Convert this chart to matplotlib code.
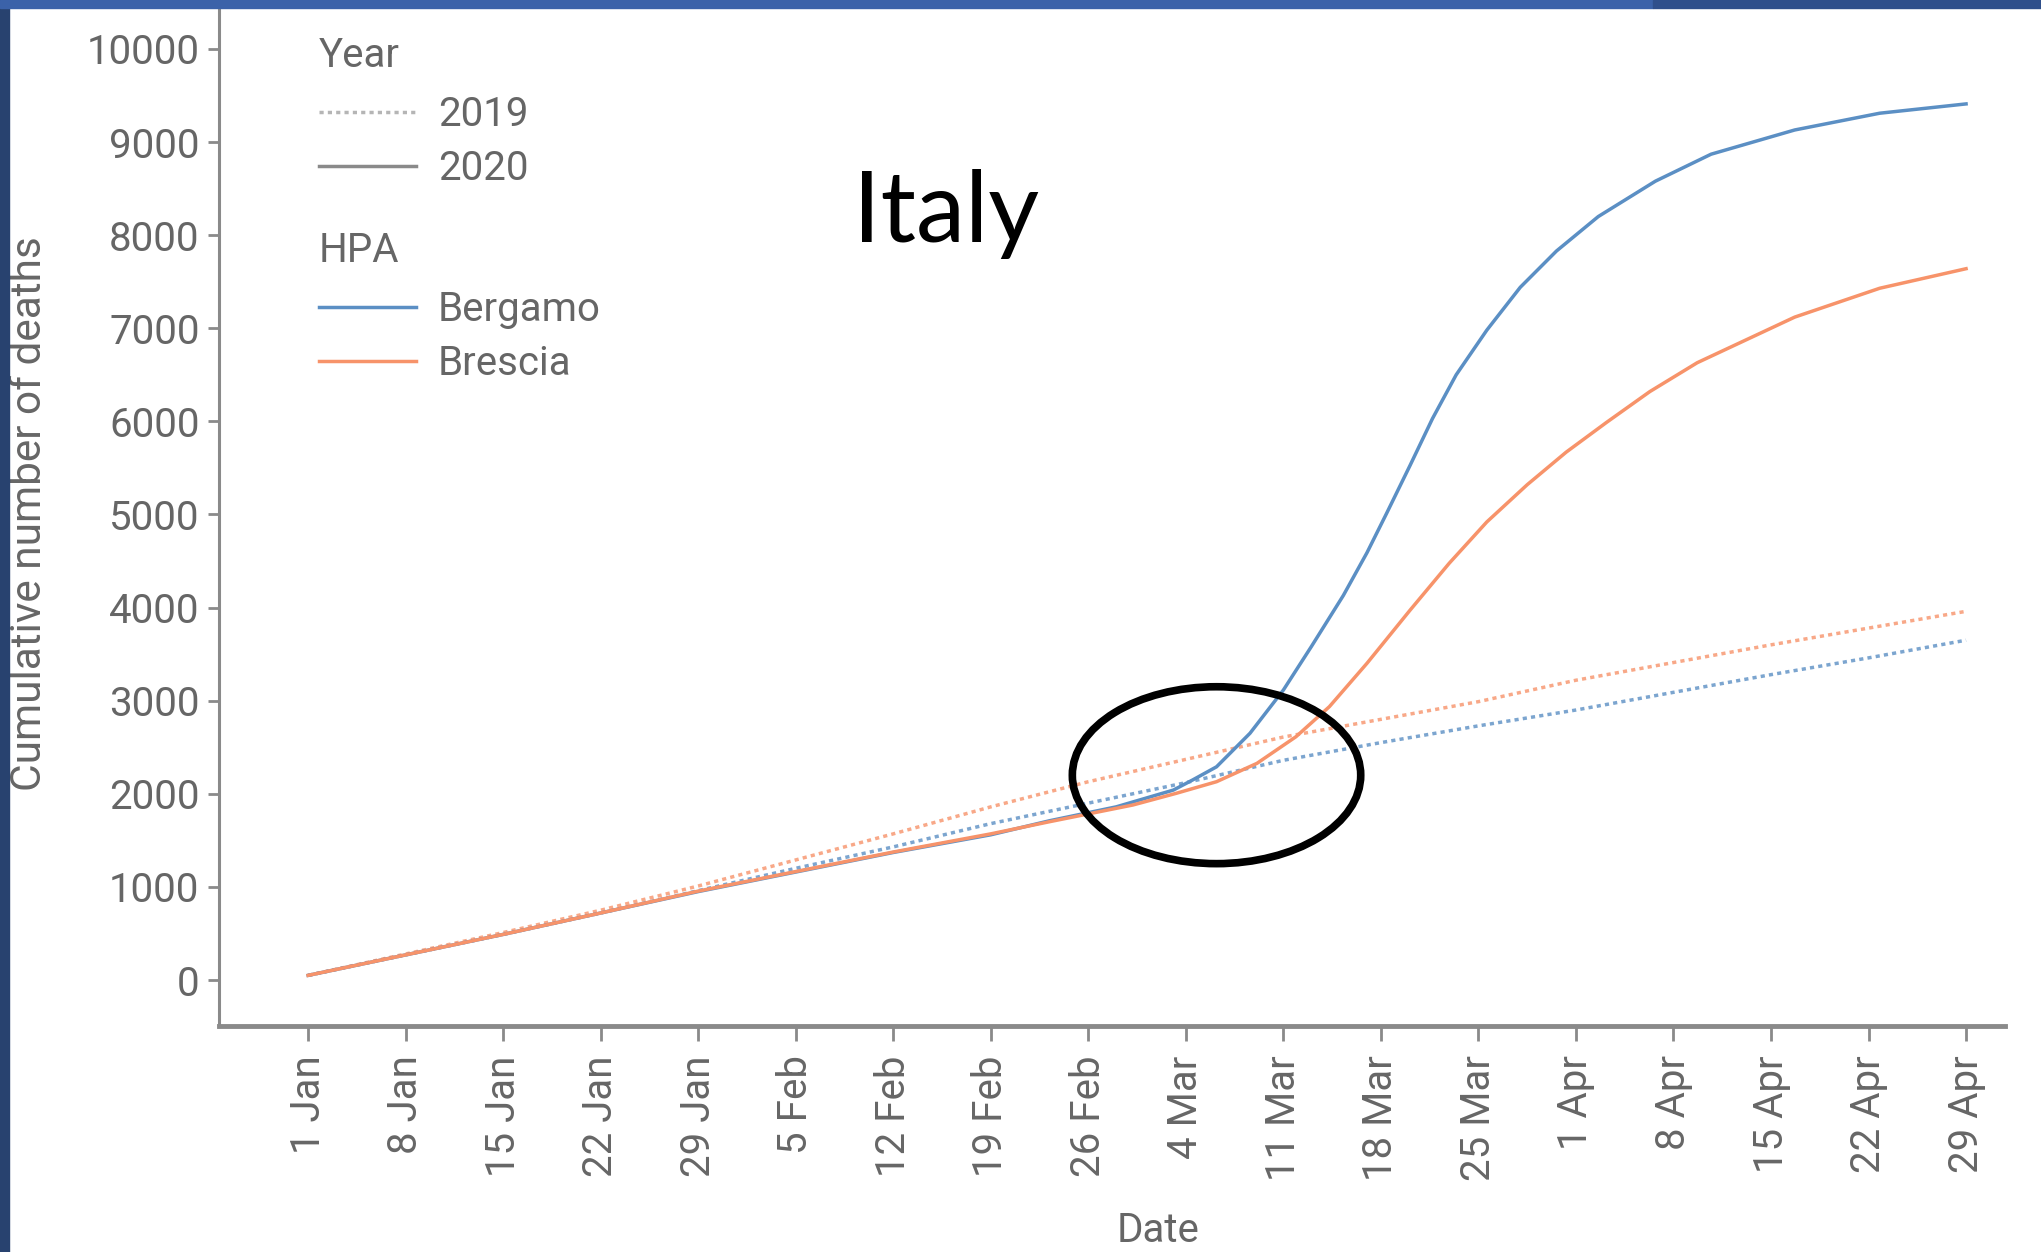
import matplotlib.pyplot as plt
from matplotlib.lines import Line2D
from matplotlib.patches import Ellipse, Rectangle

# x values are days since 1 Jan 2020 (leap year)
tick_days = [0, 7, 14, 21, 28, 35, 42, 49, 56, 63, 70, 77, 84, 91, 98, 105, 112, 119]
tick_labels = ['1 Jan', '8 Jan', '15 Jan', '22 Jan', '29 Jan', '5 Feb', '12 Feb', '19 Feb',
               '26 Feb', '4 Mar', '11 Mar', '18 Mar', '25 Mar', '1 Apr', '8 Apr', '15 Apr',
               '22 Apr', '29 Apr']
y_ticks = [0, 1000, 2000, 3000, 4000, 5000, 6000, 7000, 8000, 9000, 10000]

# 2019 cumulative deaths, read weekly
days_2019 = [0, 7, 14, 21, 28, 35, 42, 49, 56, 63, 70, 77, 84, 91, 98, 105, 112, 119]
bergamo_2019 = [50, 270, 490, 720, 960, 1200, 1430, 1680, 1900, 2120, 2360, 2550, 2730,
                2900, 3090, 3280, 3460, 3650]
brescia_2019 = [50, 280, 510, 750, 1010, 1290, 1570, 1860, 2130, 2370, 2610, 2800, 2990,
                3220, 3410, 3600, 3780, 3960]

# 2020 cumulative deaths, read more densely where the curves bend
days_bergamo_2020 = [0, 7, 14, 21, 28, 35, 42, 49, 53.2, 58.0, 62.1, 63.5, 65.2, 67.6, 70.0,
                     72.0, 74.3, 76.0, 77.4, 79.1, 80.7, 82.4, 84.6, 87.0, 89.6, 92.6, 96.7,
                     100.7, 106.7, 112.8, 119]
bergamo_2020 = [50, 270, 490, 720, 950, 1160, 1370, 1560, 1710, 1860, 2040, 2150, 2290, 2650,
                3115, 3580, 4130, 4590, 5010, 5530, 6030, 6500, 6980, 7440, 7830, 8200, 8580,
                8870, 9130, 9310, 9410]
days_brescia_2020 = [0, 7, 14, 21, 28, 35, 42, 49, 53.2, 55.6, 59.2, 62.3, 65.2, 68.1, 70.9,
                     73.3, 76.0, 79.1, 81.9, 84.6, 87.5, 90.3, 93.2, 96.3, 99.7, 106.7, 112.8,
                     119]
brescia_2020 = [50, 270, 490, 720, 955, 1165, 1375, 1570, 1700, 1772, 1880, 2005, 2130, 2327,
                2613, 2936, 3402, 3974, 4476, 4920, 5320, 5670, 5990, 6320, 6630, 7120, 7430,
                7640]

# highlighted region (hand drawn circle on the slide)
circle_center = (65.2, 2200)
circle_size = (20.7, 1900)

blue = '#5b8fc4'
orange = '#f7936a'
grey = '#666666'
axis_grey = '#8a8a8a'
font = ['Roboto', 'DejaVu Sans']
fs = 29

fig = plt.figure(figsize=(20.41, 12.52), dpi=100)

# slide border strips
fig.patches.append(Rectangle((0, 0), 0.0045, 1, transform=fig.transFigure, color='#28426f', zorder=0))
fig.patches.append(Rectangle((0, 0.9936), 0.81, 0.0064, transform=fig.transFigure, color='#3b62a9', zorder=0))
fig.patches.append(Rectangle((0.81, 0.9936), 0.19, 0.0064, transform=fig.transFigure, color='#2f4f8b', zorder=0))

ax = fig.add_axes([0.1073, 0.1805, 0.8751, 0.8131])

ax.plot(days_2019, bergamo_2019, color=blue, lw=2.5, ls=(0, (1.2, 1.2)), alpha=0.8)
ax.plot(days_2019, brescia_2019, color=orange, lw=2.5, ls=(0, (1.2, 1.2)), alpha=0.8)
ax.plot(days_bergamo_2020, bergamo_2020, color=blue, lw=2.5)
ax.plot(days_brescia_2020, brescia_2020, color=orange, lw=2.5)

ax.add_patch(Ellipse(circle_center, circle_size[0], circle_size[1], fill=False,
                     edgecolor='black', lw=5.5, zorder=5))

ax.set_xlim(-6.4, 121.8)
ax.set_ylim(-494, 10440)
ax.set_xticks(tick_days)
ax.set_xticklabels(tick_labels, rotation=90)
ax.set_yticks(y_ticks)

for s in ['top', 'right']:
    ax.spines[s].set_visible(False)
ax.spines['left'].set_color(axis_grey)
ax.spines['left'].set_linewidth(2.2)
ax.spines['bottom'].set_color(axis_grey)
ax.spines['bottom'].set_linewidth(3.5)

ax.tick_params(axis='y', length=8, width=2, color=axis_grey, pad=6, labelcolor=grey, labelsize=fs)
ax.tick_params(axis='x', length=11, width=2, color=axis_grey, pad=10, labelcolor=grey, labelsize=fs)
for lab in ax.get_xticklabels() + ax.get_yticklabels():
    lab.set_family(font)

ax.set_xlabel('Date', fontsize=fs, color=grey, family=font)
ax.set_ylabel('Cumulative number of deaths', fontsize=30.5, color=grey, family=font)
ax.xaxis.set_label_coords(0.526, -0.182)
ax.yaxis.set_label_coords(-0.0946, 0.503)

# legends: Year (line style) and HPA (colour), titles placed as text
year_handles = [Line2D([], [], color='#b5b5b5', lw=2.5, ls=(0, (1.2, 1.2))),
                Line2D([], [], color='#8a8a8a', lw=2.5)]
hpa_handles = [Line2D([], [], color=blue, lw=2.5),
               Line2D([], [], color=orange, lw=2.5)]
leg_kw = dict(frameon=False, loc='center left', bbox_transform=fig.transFigure,
              borderpad=0, borderaxespad=0, handlelength=2.4, handletextpad=0.55,
              labelspacing=0.37, prop={'family': font, 'size': fs}, labelcolor=grey)
leg1 = ax.legend(year_handles, ['2019', '2020'], bbox_to_anchor=(0.1563, 0.8872), **leg_kw)
ax.add_artist(leg1)
ax.legend(hpa_handles, ['Bergamo', 'Brescia'], bbox_to_anchor=(0.1563, 0.7310), **leg_kw)
fig.text(0.1563, 0.9559, 'Year', fontsize=fs, family=font, color=grey, va='center', ha='left')
fig.text(0.1563, 0.8001, 'HPA', fontsize=fs, family=font, color=grey, va='center', ha='left')

fig.text(0.418, 0.8067, 'Italy', fontsize=71, family=['Lato', 'DejaVu Sans'],
         color='black', va='baseline', ha='left')

fig.savefig('out.png', dpi=100)
